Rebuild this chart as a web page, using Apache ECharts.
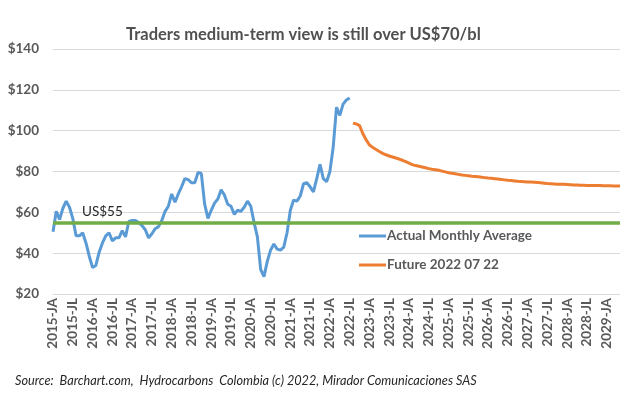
<!DOCTYPE html>
<html>
<head>
<meta charset="utf-8">
<script src="https://cdn.jsdelivr.net/npm/echarts@6/dist/echarts.min.js"></script>
<style>
html,body{margin:0;padding:0;background:#fff;}
#chart{width:635px;height:394px;}
</style>
</head>
<body>
<div id="chart"></div>
<script>
// ---- data ----
const startYear = 2015;
const monthAbbr = ['JA','FE','MR','AP','MY','JN','JL','AG','SE','OC','NO','DI'];
const categoryCount = 173; // 2015-01 .. 2029-05
const actualMonthly = [
  50.5, 60.5, 56.5, 62, 65.5, 62.5, 57, 48.5, 48.5, 50, 45, 38.5,
  33, 34, 40.5, 45, 48.5, 50, 46, 47.5, 47.5, 51, 48, 55.5,
  56, 56, 55, 53.5, 51.5, 47.5, 49.5, 52, 53, 56, 60.5, 63,
  69, 65, 69, 72.5, 76.5, 76, 74.5, 74.5, 79.5, 79, 64, 57,
  61, 64.5, 66.5, 71, 68.5, 64, 63, 59, 61, 60.5, 62.5, 65.5,
  63, 55, 48, 32, 28.5, 36, 41.5, 44.5, 42, 41.5, 43, 50,
  61, 66, 65.5, 68, 74, 74.5, 72.5, 70, 76.5, 83.5, 76.5, 75,
  80, 92, 111.5, 107.5, 113, 115, 116
];
const futureStartIndex = 91; // 2022-08
const future20220722 = [
  103.7, 103.3, 102.5, 98.5, 95.5, 93, 91.8, 90.8, 89.8, 88.9, 88.2, 87.6,
  87.1, 86.6, 86.1, 85.5, 84.8, 84.1, 83.4, 82.9, 82.6, 82.2, 81.8, 81.4,
  81.1, 80.9, 80.6, 80.2, 79.8, 79.4, 79.1, 78.9, 78.6, 78.3, 78.1, 77.9,
  77.7, 77.6, 77.4, 77.2, 77.0, 76.8, 76.7, 76.5, 76.3, 76.1, 75.9, 75.7,
  75.6, 75.4, 75.2, 75.1, 75.0, 74.9, 74.8, 74.7, 74.6, 74.5, 74.3, 74.1,
  74.0, 73.9, 73.8, 73.8, 73.7, 73.6, 73.5, 73.4, 73.4, 73.3, 73.3, 73.2,
  73.2, 73.1, 73.1, 73.1, 73.0, 73.0, 73.0, 72.9, 72.9, 72.9
];
const referenceLevel = 55;
const referenceLabel = 'US$55';
const yTicks = [20, 40, 60, 80, 100, 120, 140];

// ---- build ----
const categories = [];
for (let i = 0; i < categoryCount; i++) {
  const y = startYear + Math.floor(i / 12);
  categories.push(y + '-' + monthAbbr[i % 12]);
}
const actualData = categories.map((c, i) => i < actualMonthly.length ? actualMonthly[i] : null);
const futureData = categories.map((c, i) => {
  const k = i - futureStartIndex;
  return (k >= 0 && k < future20220722.length) ? future20220722[k] : null;
});

const FONT = 'Lato, "Open Sans", sans-serif';
const chart = echarts.init(document.getElementById('chart'), null, {renderer: 'canvas'});
chart.setOption({
  backgroundColor: '#ffffff',
  animation: false,
  title: {
    text: 'Traders medium-term view is still over US$70/bl',
    left: 121,
    top: 21,
    textStyle: {fontFamily: FONT, fontSize: 16.5, fontWeight: 'bold', color: '#505050'}
  },
  grid: {left: 53, right: 15, top: 49, bottom: 100},
  legend: {
    orient: 'vertical',
    left: 354,
    top: 224,
    itemWidth: 27,
    itemHeight: 3,
    itemGap: 15,
    icon: 'rect',
    textStyle: {fontFamily: FONT, fontSize: 13.5, fontWeight: 'bold', color: '#595959', padding: [0,0,0,-4]},
    data: ['Actual Monthly Average', 'Future 2022 07 22']
  },
  xAxis: {
    type: 'category',
    data: categories,
    boundaryGap: false,
    axisLine: {show: false},
    axisTick: {show: false},
    axisLabel: {
      interval: 5,
      rotate: 90,
      margin: 4,
      fontFamily: FONT,
      fontSize: 13.5,
      fontWeight: 'bold',
      color: '#595959'
    },
    splitLine: {show: false}
  },
  yAxis: {
    type: 'value',
    min: yTicks[0],
    max: yTicks[yTicks.length - 1],
    interval: 20,
    axisLine: {show: false},
    axisTick: {show: false},
    axisLabel: {
      formatter: v => '$' + v,
      margin: 14,
      fontFamily: FONT,
      fontSize: 13.5,
      fontWeight: 'bold',
      color: '#595959'
    },
    splitLine: {lineStyle: {color: '#d9d9d9', width: 1}}
  },
  graphic: [{
    type: 'text',
    left: 15,
    top: 374,
    style: {
      text: 'Source:  Barchart.com,  Hydrocarbons  Colombia (c) 2022, Mirador Comunicaciones SAS',
      font: 'italic 12.7px ' + FONT,
      fill: '#262626'
    }
  }],
  series: [
    {
      name: 'Actual Monthly Average',
      type: 'line',
      data: actualData,
      showSymbol: false,
      symbol: 'none',
      connectNulls: false,
      lineStyle: {color: '#5b9bd5', width: 3},
      itemStyle: {color: '#5b9bd5'},
      z: 3
    },
    {
      name: 'Future 2022 07 22',
      type: 'line',
      data: futureData,
      showSymbol: false,
      symbol: 'none',
      lineStyle: {color: '#ed7d31', width: 3},
      itemStyle: {color: '#ed7d31'},
      z: 3,
      markLine: {
        silent: true,
        symbol: ['none', 'none'],
        lineStyle: {color: '#70ad47', width: 3.5, type: 'solid'},
        label: {
          show: true,
          formatter: referenceLabel,
          position: 'insideStartTop',
          distance: [29, 4],
          fontFamily: FONT,
          fontSize: 13.5,
          color: '#262626'
        },
        data: [{yAxis: referenceLevel}]
      }
    }
  ]
});
</script>
</body>
</html>
